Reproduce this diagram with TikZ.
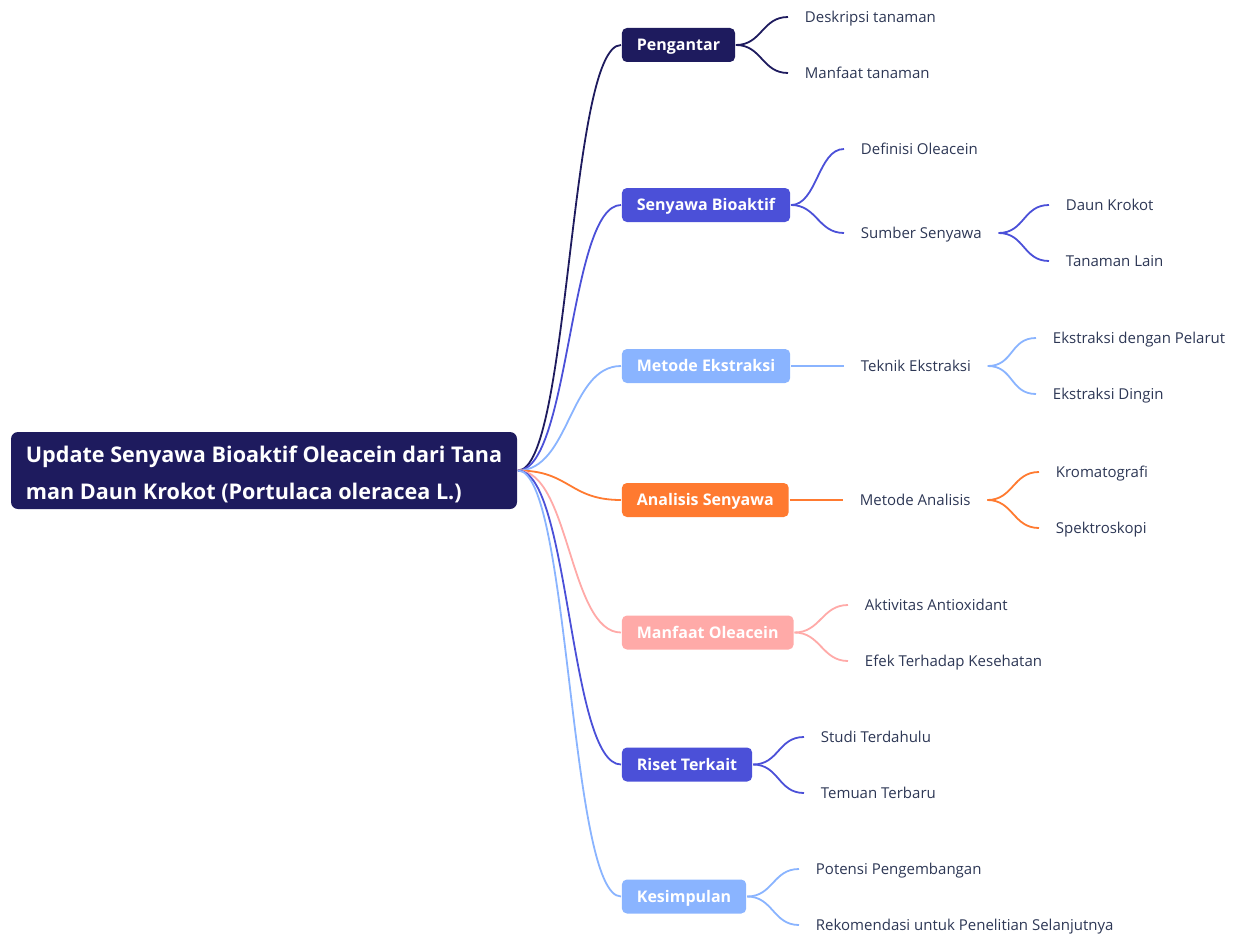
\documentclass[tikz,border=0pt]{standalone}
\usepackage{fontspec}
\setmainfont{Open Sans}
\usetikzlibrary{positioning}
\definecolor{myNavy}{RGB}{30,27,94}
\definecolor{myIndigo}{RGB}{75,80,216}
\definecolor{mySky}{RGB}{138,180,255}
\definecolor{myOrange}{RGB}{255,122,48}
\definecolor{myPink}{RGB}{255,170,168}
\definecolor{myText}{RGB}{45,55,85}

\begin{document}
\begin{tikzpicture}[x=1pt,y=-1pt,line width=1.8pt,
  root node/.style={rectangle,rounded corners=7pt,fill=myNavy,text=white,
  font=\bfseries\fontsize{21.6}{37}\selectfont,align=left,minimum width=506pt,minimum height=77pt,
  text height=58pt,text depth=0pt},
  topic node/.style={rectangle,rounded corners=5pt,text=white,
  font=\bfseries\fontsize{16}{19}\selectfont,inner xsep=15pt,minimum height=34pt,anchor=west,
  text height=11.5pt,text depth=0pt},
  sub node/.style={text=myText,font=\fontsize{15}{18}\selectfont,inner xsep=16pt,inner ysep=2pt,anchor=west,
  text height=10.7pt,text depth=0pt},
  branch/.style={out=0,in=180,distance=52pt},
  twig/.style={out=0,in=180,distance=26pt},
  straight/.style={to path={-- (\tikztotarget)}}]

\useasboundingbox (0,0) rectangle (1233,934);

% The root and the main topics
  \node[root node] (R) at (264,470.5) {Update Senyawa Bioaktif Oleacein dari Tana\\man Daun Krokot (Portulaca oleracea L.)};
  \node[topic node,fill=myNavy] (T1) at (621,45) {Pengantar};
  \node[topic node,fill=myIndigo] (T2) at (621,205) {Senyawa Bioaktif};
  \node[topic node,fill=mySky] (T3) at (621,366) {Metode Ekstraksi};
  \node[topic node,fill=myOrange] (T4) at (621,500) {Analisis Senyawa};
  \node[topic node,fill=myPink] (T5) at (621,632.5) {Manfaat Oleacein};
  \node[topic node,fill=myIndigo] (T6) at (621,764.5) {Riset Terkait};
  \node[topic node,fill=mySky] (T7) at (621,896.5) {Kesimpulan};

% The subtopics
  \node[sub node] (T1a) at (788,17) {Deskripsi tanaman};
  \node[sub node] (T1b) at (788,73) {Manfaat tanaman};
  \node[sub node] (T2a) at (844,149) {Definisi Oleacein};
  \node[sub node] (T2b) at (844,233) {Sumber Senyawa};
  \node[sub node] (T2b1) at (1049,205) {Daun Krokot};
  \node[sub node] (T2b2) at (1049,261) {Tanaman Lain};
  \node[sub node] (T3a) at (844,366) {Teknik Ekstraksi};
  \node[sub node] (T3a1) at (1036,338) {Ekstraksi dengan Pelarut};
  \node[sub node] (T3a2) at (1036,394) {Ekstraksi Dingin};
  \node[sub node] (T4a) at (843,500) {Metode Analisis};
  \node[sub node] (T4a1) at (1039,472) {Kromatografi};
  \node[sub node] (T4a2) at (1039,528) {Spektroskopi};
  \node[sub node] (T5a) at (848,605) {Aktivitas Antioxidant};
  \node[sub node] (T5b) at (848,661) {Efek Terhadap Kesehatan};
  \node[sub node] (T6a) at (804,737) {Studi Terdahulu};
  \node[sub node] (T6b) at (804,793) {Temuan Terbaru};
  \node[sub node] (T7a) at (799,869) {Potensi Pengembangan};
  \node[sub node] (T7b) at (799,925) {Rekomendasi untuk Penelitian Selanjutnya};

% The branches from the root
 \path[branch]
 (R.east) edge[myNavy] (T1.west)
 (R.east) edge[myIndigo] (T2.west)
 (R.east) edge[mySky] (T3.west)
 (R.east) edge[myOrange] (T4.west)
 (R.east) edge[myPink] (T5.west)
 (R.east) edge[myIndigo] (T6.west)
 (R.east) edge[mySky] (T7.west);

% The twigs to the subtopics
 \path[twig]
 (T1.east) edge[myNavy] (T1a.west)
 (T1.east) edge[myNavy] (T1b.west)
 (T2.east) edge[myIndigo] (T2a.west)
 (T2.east) edge[myIndigo] (T2b.west)
 (T2b.east) edge[myIndigo] (T2b1.west)
 (T2b.east) edge[myIndigo] (T2b2.west)
 (T3.east) edge[mySky,straight] (T3a.west)
 (T3a.east) edge[mySky] (T3a1.west)
 (T3a.east) edge[mySky] (T3a2.west)
 (T4.east) edge[myOrange,straight] (T4a.west)
 (T4a.east) edge[myOrange] (T4a1.west)
 (T4a.east) edge[myOrange] (T4a2.west)
 (T5.east) edge[myPink] (T5a.west)
 (T5.east) edge[myPink] (T5b.west)
 (T6.east) edge[myIndigo] (T6a.west)
 (T6.east) edge[myIndigo] (T6b.west)
 (T7.east) edge[mySky] (T7a.west)
 (T7.east) edge[mySky] (T7b.west);

\end{tikzpicture}
\end{document}
